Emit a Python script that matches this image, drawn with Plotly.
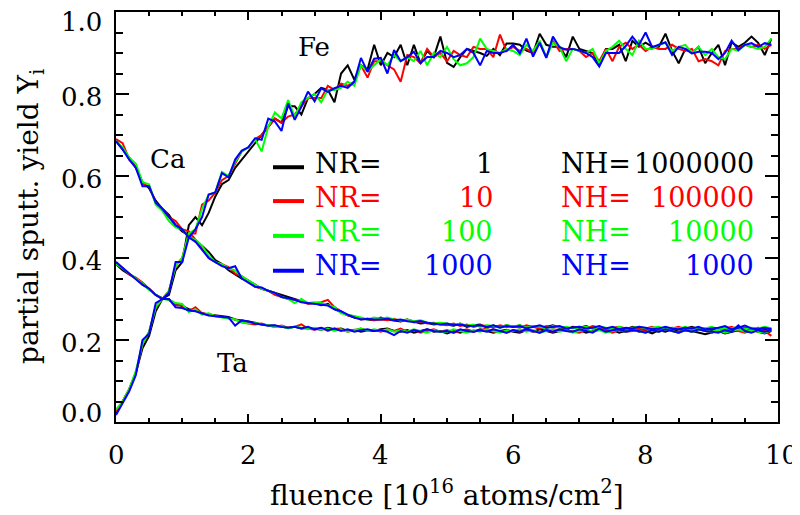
import plotly.graph_objects as go

# ---------------- data ----------------
fluence = [round(i * 0.1, 1) for i in range(100)]

fe_nr1 = [0.02,0.05,0.08,0.12,0.18,0.21,0.27,0.30,0.31,0.37,
          0.39,0.48,0.50,0.48,0.51,0.55,0.58,0.59,0.62,0.64,
          0.66,0.68,0.70,0.72,0.74,0.73,0.77,0.77,0.75,0.79,
          0.80,0.815,0.81,0.78,0.85,0.87,0.835,0.87,0.86,0.92,
          0.87,0.90,0.89,0.92,0.87,0.92,0.875,0.905,0.89,0.94,
          0.876,0.866,0.89,0.91,0.905,0.90,0.893,0.91,0.895,0.923,
          0.923,0.92,0.906,0.90,0.947,0.92,0.915,0.915,0.89,0.94,
          0.91,0.905,0.90,0.87,0.91,0.91,0.92,0.88,0.93,0.915,
          0.925,0.915,0.915,0.947,0.905,0.875,0.91,0.90,0.915,0.875,
          0.90,0.92,0.87,0.926,0.915,0.925,0.94,0.925,0.895,0.935]
fe_nr10 = [0.025,0.05,0.08,0.12,0.19,0.22,0.28,0.30,0.32,0.38,
           0.40,0.46,0.46,0.53,0.54,0.56,0.59,0.60,0.63,0.66,
           0.67,0.69,0.70,0.72,0.74,0.73,0.745,0.75,0.77,0.79,
           0.79,0.79,0.82,0.81,0.825,0.82,0.83,0.87,0.84,0.88,
           0.88,0.87,0.86,0.83,0.895,0.89,0.875,0.91,0.89,0.90,
           0.88,0.905,0.895,0.89,0.915,0.91,0.91,0.89,0.945,0.905,
           0.915,0.905,0.91,0.90,0.925,0.89,0.93,0.905,0.91,0.91,
           0.905,0.89,0.90,0.88,0.91,0.88,0.915,0.925,0.91,0.92,
           0.905,0.915,0.91,0.91,0.92,0.91,0.905,0.91,0.88,0.885,
           0.88,0.87,0.905,0.91,0.91,0.92,0.915,0.92,0.91,0.92]
fe_nr100 = [0.03,0.05,0.08,0.125,0.19,0.22,0.28,0.30,0.32,0.38,
            0.40,0.46,0.47,0.52,0.555,0.56,0.61,0.60,0.635,0.66,
            0.67,0.69,0.66,0.72,0.755,0.74,0.785,0.745,0.78,0.79,
            0.80,0.78,0.81,0.81,0.815,0.83,0.82,0.87,0.855,0.87,
            0.885,0.87,0.895,0.88,0.89,0.88,0.905,0.87,0.90,0.89,
            0.915,0.885,0.87,0.875,0.89,0.935,0.91,0.905,0.90,0.91,
            0.905,0.895,0.92,0.905,0.93,0.89,0.925,0.915,0.88,0.91,
            0.905,0.90,0.91,0.875,0.905,0.915,0.93,0.91,0.895,0.93,
            0.91,0.91,0.92,0.925,0.905,0.915,0.92,0.90,0.915,0.895,
            0.91,0.89,0.885,0.91,0.905,0.92,0.915,0.91,0.915,0.935]
fe_nr1000 = [0.017,0.045,0.075,0.115,0.20,0.215,0.29,0.30,0.315,0.39,
             0.39,0.45,0.47,0.50,0.555,0.56,0.607,0.597,0.64,0.662,
             0.67,0.692,0.688,0.74,0.733,0.71,0.777,0.737,0.769,0.806,
             0.782,0.814,0.805,0.814,0.82,0.815,0.83,0.888,0.854,0.886,
             0.888,0.85,0.907,0.88,0.89,0.903,0.875,0.89,0.89,0.905,
             0.90,0.89,0.895,0.91,0.90,0.87,0.905,0.90,0.90,0.905,
             0.92,0.899,0.935,0.891,0.925,0.888,0.94,0.914,0.908,0.91,
             0.906,0.90,0.89,0.867,0.90,0.90,0.90,0.917,0.94,0.92,
             0.95,0.914,0.92,0.926,0.895,0.915,0.91,0.899,0.903,0.903,
             0.90,0.885,0.90,0.93,0.907,0.92,0.924,0.915,0.924,0.92]

ca_nr1 = [0.685,0.665,0.645,0.62,0.585,0.57,0.54,0.52,0.505,0.48,
          0.465,0.455,0.44,0.43,0.415,0.395,0.385,0.37,0.36,0.35,
          0.345,0.335,0.325,0.32,0.315,0.31,0.305,0.30,0.295,0.29,
          0.29,0.285,0.288,0.275,0.268,0.26,0.255,0.252,0.25,0.248,
          0.255,0.25,0.248,0.245,0.25,0.245,0.24,0.242,0.238,0.24,
          0.238,0.235,0.24,0.232,0.236,0.238,0.23,0.235,0.232,0.236,
          0.232,0.236,0.23,0.234,0.228,0.232,0.236,0.23,0.226,0.232,
          0.23,0.234,0.228,0.232,0.225,0.23,0.228,0.226,0.232,0.228,
          0.226,0.23,0.228,0.224,0.23,0.226,0.228,0.232,0.226,0.228,
          0.224,0.228,0.23,0.226,0.232,0.228,0.225,0.23,0.226,0.228]
ca_nr10 = [0.69,0.68,0.64,0.625,0.58,0.575,0.535,0.52,0.50,0.49,
           0.47,0.465,0.445,0.425,0.40,0.39,0.385,0.378,0.362,0.355,
           0.345,0.33,0.325,0.32,0.31,0.305,0.30,0.298,0.295,0.288,
           0.29,0.292,0.298,0.28,0.27,0.26,0.258,0.25,0.252,0.248,
           0.25,0.248,0.252,0.246,0.25,0.243,0.245,0.24,0.242,0.238,
           0.236,0.24,0.234,0.238,0.232,0.236,0.234,0.23,0.236,0.232,
           0.234,0.23,0.236,0.232,0.228,0.234,0.23,0.232,0.228,0.23,
           0.232,0.228,0.234,0.23,0.226,0.23,0.232,0.228,0.23,0.226,
           0.228,0.232,0.226,0.23,0.228,0.232,0.226,0.23,0.228,0.226,
           0.23,0.226,0.228,0.232,0.226,0.23,0.228,0.226,0.222,0.225]
ca_nr100 = [0.685,0.67,0.645,0.63,0.585,0.58,0.53,0.515,0.49,0.475,
            0.47,0.45,0.445,0.43,0.405,0.39,0.385,0.375,0.37,0.355,
            0.345,0.335,0.325,0.32,0.315,0.305,0.30,0.29,0.30,0.29,
            0.292,0.29,0.285,0.28,0.265,0.262,0.258,0.255,0.25,0.255,
            0.252,0.255,0.25,0.248,0.25,0.246,0.248,0.243,0.24,0.242,
            0.24,0.236,0.24,0.235,0.238,0.232,0.236,0.234,0.23,0.236,
            0.233,0.236,0.23,0.234,0.232,0.228,0.234,0.23,0.232,0.228,
            0.23,0.232,0.228,0.232,0.23,0.226,0.232,0.228,0.23,0.232,
            0.228,0.23,0.232,0.226,0.23,0.228,0.232,0.226,0.23,0.228,
            0.232,0.226,0.23,0.228,0.232,0.226,0.23,0.228,0.232,0.228]
ca_nr1000 = [0.685,0.665,0.64,0.62,0.575,0.575,0.535,0.52,0.50,0.48,
             0.47,0.45,0.44,0.42,0.40,0.39,0.38,0.375,0.38,0.35,
             0.34,0.33,0.328,0.32,0.315,0.305,0.302,0.298,0.292,0.29,
             0.288,0.285,0.284,0.275,0.27,0.262,0.255,0.25,0.252,0.25,
             0.25,0.252,0.248,0.25,0.246,0.244,0.246,0.242,0.24,0.238,
             0.24,0.236,0.238,0.235,0.234,0.236,0.232,0.236,0.23,0.234,
             0.232,0.234,0.228,0.232,0.236,0.23,0.232,0.234,0.228,0.23,
             0.232,0.228,0.23,0.234,0.228,0.232,0.226,0.23,0.228,0.232,
             0.23,0.226,0.228,0.232,0.228,0.226,0.23,0.228,0.232,0.226,
             0.228,0.23,0.234,0.226,0.23,0.235,0.228,0.226,0.23,0.226]

ta_nr1 = [0.385,0.37,0.36,0.35,0.335,0.325,0.31,0.302,0.298,0.288,
          0.283,0.275,0.272,0.265,0.262,0.26,0.258,0.256,0.25,0.248,
          0.245,0.242,0.238,0.236,0.235,0.232,0.23,0.232,0.228,0.23,
          0.228,0.225,0.23,0.226,0.228,0.222,0.225,0.22,0.224,0.222,
          0.226,0.228,0.222,0.22,0.224,0.218,0.222,0.226,0.22,0.222,
          0.216,0.222,0.218,0.224,0.22,0.226,0.222,0.218,0.222,0.225,
          0.22,0.218,0.224,0.22,0.226,0.222,0.218,0.222,0.225,0.22,
          0.224,0.218,0.222,0.226,0.22,0.224,0.218,0.222,0.226,0.22,
          0.222,0.216,0.224,0.22,0.226,0.22,0.224,0.222,0.218,0.214,
          0.218,0.222,0.216,0.22,0.224,0.222,0.226,0.22,0.216,0.222]
ta_nr10 = [0.39,0.375,0.36,0.352,0.34,0.325,0.31,0.30,0.30,0.285,
           0.285,0.27,0.28,0.265,0.262,0.258,0.255,0.252,0.25,0.245,
           0.24,0.238,0.24,0.235,0.232,0.235,0.23,0.232,0.238,0.228,
           0.225,0.23,0.222,0.228,0.226,0.22,0.224,0.228,0.222,0.225,
           0.22,0.226,0.222,0.228,0.22,0.224,0.218,0.222,0.226,0.22,
           0.224,0.218,0.222,0.226,0.22,0.224,0.228,0.22,0.222,0.218,
           0.224,0.22,0.226,0.222,0.218,0.224,0.22,0.226,0.222,0.22,
           0.218,0.224,0.22,0.226,0.222,0.218,0.224,0.22,0.222,0.226,
           0.22,0.224,0.22,0.226,0.222,0.218,0.224,0.22,0.226,0.222,
           0.218,0.224,0.22,0.226,0.222,0.218,0.224,0.22,0.222,0.21]
ta_nr100 = [0.385,0.375,0.362,0.35,0.338,0.322,0.312,0.30,0.298,0.29,
            0.288,0.268,0.275,0.262,0.265,0.258,0.255,0.252,0.25,0.242,
            0.24,0.242,0.238,0.236,0.232,0.234,0.228,0.232,0.23,0.226,
            0.23,0.225,0.228,0.222,0.226,0.22,0.224,0.228,0.222,0.226,
            0.222,0.226,0.22,0.224,0.22,0.226,0.222,0.218,0.224,0.22,
            0.22,0.226,0.222,0.218,0.224,0.22,0.226,0.222,0.218,0.224,
            0.222,0.226,0.22,0.224,0.218,0.222,0.226,0.22,0.224,0.218,
            0.222,0.226,0.22,0.224,0.218,0.222,0.226,0.22,0.224,0.222,
            0.218,0.224,0.22,0.226,0.222,0.218,0.224,0.22,0.226,0.222,
            0.22,0.224,0.218,0.222,0.226,0.22,0.224,0.22,0.218,0.224]
ta_nr1000 = [0.39,0.376,0.36,0.348,0.335,0.325,0.31,0.30,0.30,0.28,
             0.278,0.272,0.27,0.265,0.26,0.258,0.256,0.255,0.235,0.248,
             0.245,0.24,0.238,0.235,0.236,0.232,0.23,0.232,0.228,0.232,
             0.226,0.23,0.224,0.228,0.222,0.226,0.22,0.224,0.226,0.222,
             0.224,0.22,0.212,0.222,0.218,0.224,0.22,0.226,0.222,0.22,
             0.222,0.218,0.226,0.222,0.22,0.224,0.22,0.226,0.222,0.218,
             0.224,0.22,0.226,0.222,0.218,0.224,0.22,0.226,0.222,0.22,
             0.226,0.222,0.218,0.228,0.22,0.224,0.226,0.22,0.224,0.222,
             0.218,0.224,0.22,0.226,0.222,0.218,0.224,0.22,0.226,0.222,
             0.22,0.218,0.224,0.22,0.236,0.222,0.218,0.224,0.22,0.224]

nr_labels = ["1", "10", "100", "1000"]
nh_labels = ["1000000", "100000", "10000", "1000"]
series_colors = ["#000000", "#ff0000", "#00ff00", "#0000ff"]
fe_series = [fe_nr1, fe_nr10, fe_nr100, fe_nr1000]
ca_series = [ca_nr1, ca_nr10, ca_nr100, ca_nr1000]
ta_series = [ta_nr1, ta_nr10, ta_nr100, ta_nr1000]

element_labels = ["Fe", "Ca", "Ta"]
x_ticks = [0, 2, 4, 6, 8, 10]
y_ticks = [0.0, 0.2, 0.4, 0.6, 0.8, 1.0]

# ---------------- layout geometry ----------------
# The page body has an 8 px default margin, so the figure is drawn 8 px
# smaller and all pixel positions below are screen pixels.
OFF = 8
W, H = 800 - OFF, 515 - OFF
L, R, T, B = 116, 778, 10, 422          # plot frame in screen pixels
FONT = "DejaVu Serif"

def px_x(px):
    return (px - L) / (R - L)

def px_y(py):
    return (B - py) / (B - T)

fig = go.Figure()
for k in range(4):
    for s in (fe_series, ca_series, ta_series):
        fig.add_trace(go.Scatter(x=fluence, y=s[k], mode="lines",
                                 line=dict(color=series_colors[k], width=2),
                                 showlegend=False, hoverinfo="skip"))

ann = []
# y tick labels (end labels are pulled inside the frame, as in the original)
ytick_shift = {0.0: 9, 1.0: -10}
for v in y_ticks:
    ann.append(dict(x=0, xref="paper", y=v, yref="y", text=f"{v:.1f}",
                    xanchor="right", yanchor="middle", xshift=-12,
                    yshift=ytick_shift.get(v, -3),
                    showarrow=False, font=dict(family=FONT, size=26, color="black")))
# x tick labels
for v in x_ticks:
    ann.append(dict(x=v, xref="x", y=0, yref="paper", text=str(v),
                    xanchor="center", yanchor="middle", yshift=-33,
                    xshift=3 if v == 10 else 0,
                    showarrow=False, font=dict(family=FONT, size=26, color="black")))
# axis titles
ann.append(dict(x=0.5, xref="paper", y=0, yref="paper",
                text="fluence [10<sup>16</sup> atoms/cm<sup>2</sup>]",
                xanchor="center", yanchor="middle", yshift=-71, showarrow=False,
                font=dict(family=FONT, size=28, color="black")))
ann.append(dict(x=0, xref="paper", y=0.5, yref="paper",
                text="partial sputt. yield Y<sub>i</sub>", textangle=-90,
                xanchor="center", yanchor="middle", xshift=-86, showarrow=False,
                font=dict(family=FONT, size=28, color="black")))
# element labels
for lab, (px, py) in zip(element_labels, [(314, 45), (167, 158), (232, 363)]):
    ann.append(dict(x=px_x(px), xref="paper", y=px_y(py), yref="paper", text=lab,
                    xanchor="center", yanchor="middle", showarrow=False,
                    font=dict(family=FONT, size=26, color="black")))
# legend
row_text_y = [162, 196.5, 231, 265]
row_line_y = [166, 200, 235, 270]
shapes = []
for k in range(4):
    c = series_colors[k]
    shapes.append(dict(type="line", xref="paper", yref="paper",
                       x0=px_x(273), x1=px_x(304), y0=px_y(row_line_y[k]), y1=px_y(row_line_y[k]),
                       line=dict(color=c, width=4)))
    f = dict(family=FONT, size=27, color=c)
    ann.append(dict(x=px_x(313), xref="paper", y=px_y(row_text_y[k]), yref="paper", text="NR=",
                    xanchor="left", yanchor="middle", showarrow=False, font=f))
    ann.append(dict(x=px_x(495), xref="paper", y=px_y(row_text_y[k]), yref="paper", text=nr_labels[k],
                    xanchor="right", yanchor="middle", showarrow=False, font=f))
    ann.append(dict(x=px_x(559), xref="paper", y=px_y(row_text_y[k]), yref="paper", text="NH=",
                    xanchor="left", yanchor="middle", showarrow=False, font=f))
    ann.append(dict(x=px_x(756), xref="paper", y=px_y(row_text_y[k]), yref="paper", text=nh_labels[k],
                    xanchor="right", yanchor="middle", showarrow=False, font=f))

axis_common = dict(showgrid=False, zeroline=False, showline=True, linewidth=2,
                   linecolor="black", mirror="allticks", ticks="inside",
                   tickcolor="black", tickwidth=2, showticklabels=False)

fig.update_layout(
    width=W, height=H,
    margin=dict(l=L - OFF, r=800 - R, t=T - OFF, b=515 - B),
    paper_bgcolor="white", plot_bgcolor="white",
    xaxis=dict(range=[0, 10], tickvals=x_ticks, ticklen=8,
               minor=dict(dtick=0.5, ticks="inside", ticklen=4, tickwidth=2, tickcolor="black"),
               **axis_common),
    yaxis=dict(range=[0, 1], tickvals=y_ticks, ticklen=13,
               minor=dict(dtick=0.05, ticks="inside", ticklen=7, tickwidth=2, tickcolor="black"),
               **axis_common),
    annotations=ann, shapes=shapes,
)

fig.write_html("out.html")
